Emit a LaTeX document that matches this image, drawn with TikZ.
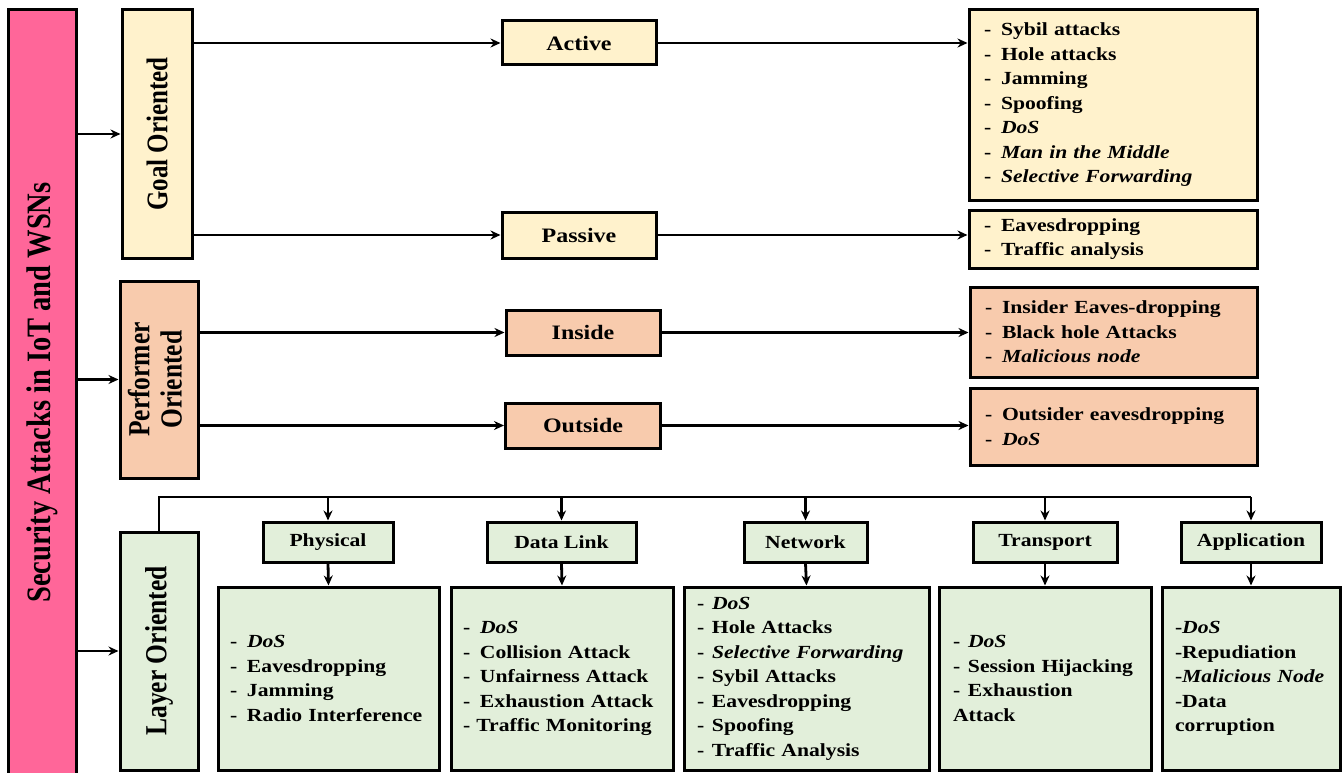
\documentclass[tikz,border=0pt]{standalone}
\usepackage{fontspec}
\usepackage{graphicx}
\setmainfont{Liberation Serif}[FakeStretch=1.17]
\newfontfamily\rotfont{Liberation Serif}
\usetikzlibrary{arrows.meta}
\definecolor{cpink}{HTML}{FF6699}
\definecolor{cyel}{HTML}{FFF2CC}
\definecolor{cpeach}{HTML}{F8CBAD}
\definecolor{cgreen}{HTML}{E2EFDA}
\newcommand{\rtext}[2]{\scalebox{1.2}[1]{\rotatebox{90}{\rotfont\bfseries\fontsize{#1}{#1}\selectfont #2}}}
\newcommand{\dsh}{\makebox[17pt][l]{-}}
\newcommand{\dshs}{\makebox[15pt][l]{-}}
\begin{document}
\begin{tikzpicture}[x=1pt,y=-1pt,
  box/.style={draw=black, line width=3pt, inner sep=0pt},
  lbl/.style={box, font=\bfseries\fontsize{20.5pt}{24pt}\selectfont},
  sublbl/.style={box, font=\bfseries\fontsize{18.5pt}{24pt}\selectfont},
  lst/.style={box, align=left, inner xsep=12pt, font=\bfseries\fontsize{18.5pt}{24.5pt}\selectfont},
  arr/.style={line width=2.8pt, -{Stealth[length=10pt,width=9pt]}},
  conn/.style={line width=2.8pt, line join=miter}]
\useasboundingbox (0,0) rectangle (1344,773);
% main bar and categories
\node[box, fill=cpink, minimum width=68pt, minimum height=765pt] (bar) at (42,392.5) {\rtext{28.5pt}{Security Attacks in IoT and WSNs}};
\node[box, fill=cyel, minimum width=70pt, minimum height=248pt] (goal) at (157,134) {\rtext{25pt}{Goal Oriented}};
\node[box, fill=cpeach, minimum width=78pt, minimum height=197pt] (perf) at (159,379.5) {\scalebox{1.2}[1]{\rotatebox{90}{\rotfont\bfseries\fontsize{25.5pt}{27pt}\selectfont\begin{tabular}{@{}c@{}}Performer\\Oriented\end{tabular}}}};
\node[box, fill=cgreen, minimum width=78pt, minimum height=238pt] (layer) at (159,651) {\rtext{25.5pt}{Layer Oriented}};
% goal / performer sub nodes
\node[lbl, fill=cyel, minimum width=154pt, minimum height=44pt] (active) at (579,43) {Active};
\node[lbl, fill=cyel, minimum width=154pt, minimum height=46pt] (passive) at (579,235) {Passive};
\node[lbl, fill=cpeach, minimum width=154pt, minimum height=45pt] (inside) at (583,332.5) {Inside};
\node[lbl, fill=cpeach, minimum width=155pt, minimum height=45pt] (outside) at (583,425.5) {Outside};
% lists right
\node[lst, fill=cyel, inner xsep=15pt, text width=258pt, minimum width=288pt, minimum height=190pt] (gl1) at (1113,105) {\dsh Sybil attacks\\\dsh Hole attacks\\\dsh Jamming\\\dsh Spoofing\\\dsh\textit{DoS}\\\dsh\textit{Man in the Middle}\\\dsh\textit{Selective Forwarding}};
\node[lst, fill=cyel, inner xsep=15pt, text width=258pt, minimum width=288pt, minimum height=58pt] (gl2) at (1113,239) {\dsh Eavesdropping\\\dsh Traffic analysis};
\node[lst, fill=cpeach, inner xsep=15pt, text width=257pt, minimum width=287pt, minimum height=90pt] (pl1) at (1113.5,332) {\dsh Insider Eaves-dropping\\\dsh Black hole Attacks\\\dsh\textit{Malicious node}};
\node[lst, fill=cpeach, inner xsep=15pt, text width=257pt, minimum width=287pt, minimum height=77pt] (pl2) at (1113.5,426.5) {\dsh Outsider eavesdropping\\\dsh\textit{DoS}};
% layer sub nodes
\node[sublbl, fill=cgreen, minimum width=130pt, minimum height=40pt] (phys) at (328,542) {Physical};
\node[sublbl, fill=cgreen, minimum width=149pt, minimum height=40pt] (dlink) at (561.5,542) {Data Link};
\node[sublbl, fill=cgreen, minimum width=123pt, minimum height=40pt] (net) at (805.5,542) {Network};
\node[sublbl, fill=cgreen, minimum width=144pt, minimum height=40pt] (trans) at (1045,542) {Transport};
\node[sublbl, fill=cgreen, minimum width=140pt, minimum height=40pt] (app) at (1251,542) {Application};
% layer lists
\node[lst, fill=cgreen, text width=197pt, minimum width=221pt, minimum height=183pt] (L1) at (328.5,678.5) {\dsh\textit{DoS}\\\dsh Eavesdropping\\\dsh Jamming\\\dsh Radio Interference};
\node[lst, fill=cgreen, text width=198pt, minimum width=222pt, minimum height=183pt] (L2) at (562,678.5) {\dsh\textit{DoS}\\\dsh Collision Attack\\\dsh Unfairness Attack\\\dsh Exhaustion Attack\\- Traffic Monitoring};
\node[lst, fill=cgreen, inner xsep=13pt, text width=219pt, minimum width=245pt, minimum height=183pt] (L3) at (806.5,678.5) {\dshs\textit{DoS}\\\dshs Hole Attacks\\\dshs\textit{Selective Forwarding}\\\dshs Sybil Attacks\\\dshs Eavesdropping\\\dshs Spoofing\\\dshs Traffic Analysis};
\node[lst, fill=cgreen, inner xsep=14pt, text width=184pt, minimum width=212pt, minimum height=183pt] (L4) at (1045,678.5) {\dshs\textit{DoS}\\\dshs Session Hijacking\\\dshs Exhaustion\\Attack};
\node[lst, fill=cgreen, inner xsep=13pt, text width=152pt, minimum width=178pt, minimum height=183pt] (L5) at (1251,678.5) {-\textit{DoS}\\-Repudiation\\-\textit{Malicious Node}\\-Data\\corruption};
% connectors
\draw[arr] (bar.east |- goal.west) -- (goal.west);
\draw[arr] (bar.east |- perf.west) -- (perf.west);
\draw[arr] (bar.east |- layer.west) -- (layer.west);
\draw[arr] (goal.east |- active.west) -- (active.west);
\draw[arr] (goal.east |- passive.west) -- (passive.west);
\draw[arr] (perf.east |- inside.west) -- (inside.west);
\draw[arr] (perf.east |- outside.west) -- (outside.west);
\draw[arr] (active.east) -- (active.east -| gl1.west);
\draw[arr] (passive.east) -- (passive.east -| gl2.west);
\draw[arr] (inside.east) -- (inside.east -| pl1.west);
\draw[arr] (outside.east) -- (outside.east -| pl2.west);
\coordinate (bus) at (0,497);
\draw[conn] (layer.north) |- (app.north |- bus);
\foreach \n in {phys,dlink,net,trans,app} \draw[arr] (\n.north |- bus) -- (\n.north);
\draw[arr] (phys.south) -- (L1.north);
\draw[arr] (dlink.south) -- (L2.north);
\draw[arr] (net.south) -- (L3.north);
\draw[arr] (trans.south) -- (L4.north);
\draw[arr] (app.south) -- (L5.north);
\end{tikzpicture}
\end{document}
